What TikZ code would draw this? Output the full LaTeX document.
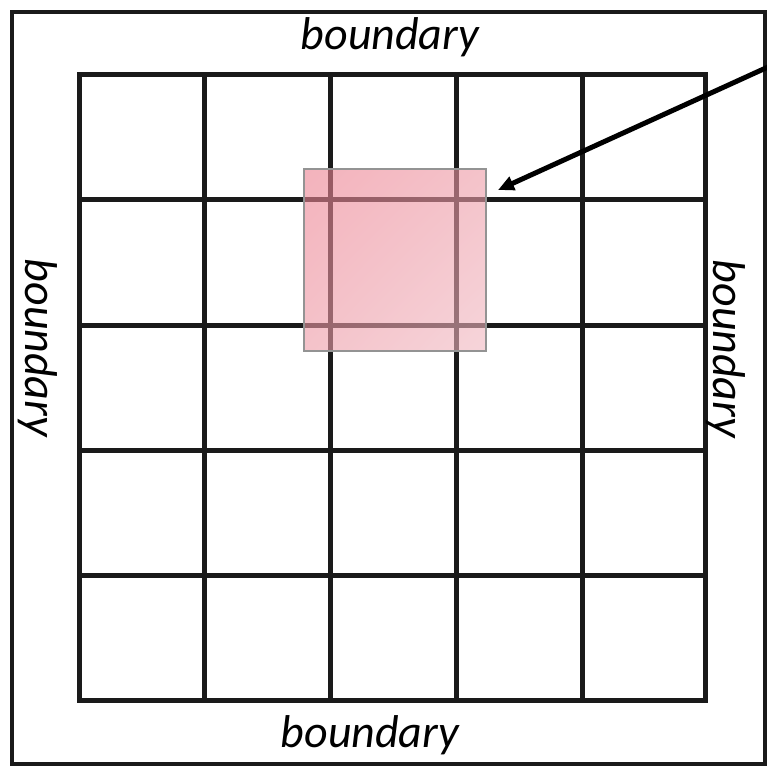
\documentclass[tikz,border=0pt]{standalone}
\usepackage{fontspec}
\setmainfont{Carlito}
\usetikzlibrary{arrows.meta,shadings}
\definecolor{gridc}{HTML}{1A1A1A}
\definecolor{pinkA}{RGB}{236,128,144}
\definecolor{pinkM}{RGB}{238,155,167}
\definecolor{pinkB}{RGB}{240,185,194}
\tikzset{
  gridline/.style={draw=gridc, line width=5pt},
  lbl/.style={font=\fontsize{46}{50}\selectfont\itshape, inner sep=0pt},
  pointer/.style={draw=black, line width=5pt, -{Triangle[length=16pt,width=14pt]}}
}
\begin{document}
\begin{tikzpicture}[x=1pt,y=-1pt]
\useasboundingbox (0,0) rectangle (766,767);
\fill[white] (0,0) rectangle (766,767);
% outer frame
\draw[draw=gridc, line width=3.5pt] (12,12) rectangle (765,764);
% grid
\foreach \x in {79,204.2,330.4,456.6,582.8,705}
  \draw[gridline] (\x,75) -- (\x,700);
\foreach \y in {75,200,325,450,575,700}
  \draw[gridline] (79,\y) -- (705,\y);
\draw[gridline, line join=miter] (79,75) rectangle (705,700);
% highlighted window
\shade[fill opacity=0.6, upper left=pinkA, lower right=pinkB, upper right=pinkM, lower left=pinkM]
  (304,169) rectangle (486,351);
\node[draw=gray!85, line width=1.5pt, minimum width=182pt, minimum height=182pt, inner sep=0pt]
  (win) at (395,260) {};
% labels
\node[lbl] (top) at (390,37) {boundary};
\node[lbl] (bot) at (370,735) {boundary};
\node[lbl, rotate=-90] (left) at (38,348) {boundary};
\node[lbl, rotate=-90] (right) at (726,349) {boundary};
% arrow
\coordinate (src) at (768,67);
\coordinate (tip) at (498,190);
\draw[pointer] (src) -- (tip);
\end{tikzpicture}
\end{document}
